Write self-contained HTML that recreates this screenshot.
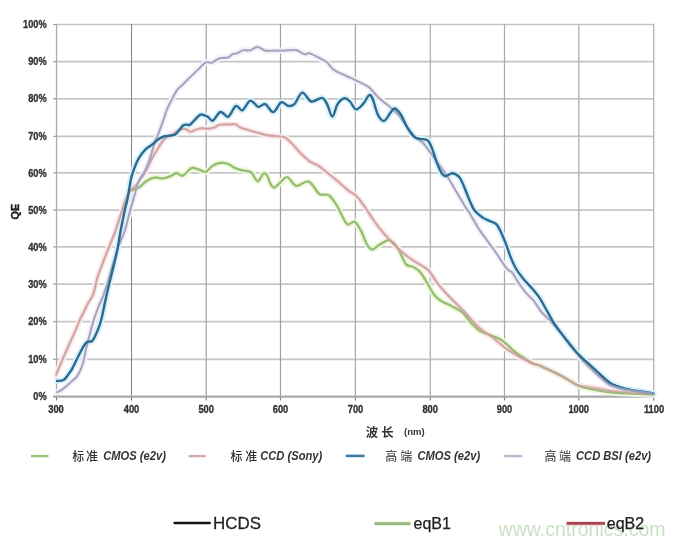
<!DOCTYPE html>
<html><head><meta charset="utf-8"><style>
html,body{margin:0;padding:0;background:#fff;}
body{width:684px;height:544px;overflow:hidden;position:relative;}
svg{position:absolute;left:0;top:0;}
.yl{font-family:"Liberation Sans",sans-serif;font-weight:bold;font-size:10.6px;fill:#333;stroke:#333;stroke-width:0.35px;text-anchor:end;}
.xl{font-family:"Liberation Sans",sans-serif;font-weight:bold;font-size:10.2px;fill:#333;stroke:#333;stroke-width:0.35px;text-anchor:middle;}
.qe{font-family:"Liberation Sans",sans-serif;font-weight:bold;font-size:10.4px;fill:#222;stroke:#222;stroke-width:0.4px;}
.cj{font-family:"Liberation Sans","Noto Sans CJK SC",sans-serif;font-size:12px;font-weight:500;fill:#333;}
.lb{font-family:"Liberation Sans",sans-serif;font-weight:bold;font-style:italic;font-size:13px;fill:#333;}
.nm{font-family:"Liberation Sans",sans-serif;font-weight:bold;font-size:9.5px;fill:#333;}
.l2{font-family:"Liberation Sans",sans-serif;font-size:16px;fill:#222;stroke:#222;stroke-width:0.25px;}
.wm{font-family:"Liberation Sans",sans-serif;font-size:19.5px;fill:#b9d6b1;opacity:0.75;}
</style></head><body>
<svg width="684" height="544" viewBox="0 0 684 544">
<line x1="56" y1="24.50" x2="654" y2="24.50" stroke="#c5c5c5" stroke-width="1.7"/>
<line x1="53" y1="24.50" x2="56" y2="24.50" stroke="#a0a0a0" stroke-width="1.2"/>
<line x1="56" y1="61.70" x2="654" y2="61.70" stroke="#c5c5c5" stroke-width="1.7"/>
<line x1="53" y1="61.70" x2="56" y2="61.70" stroke="#a0a0a0" stroke-width="1.2"/>
<line x1="56" y1="98.80" x2="654" y2="98.80" stroke="#c5c5c5" stroke-width="1.7"/>
<line x1="53" y1="98.80" x2="56" y2="98.80" stroke="#a0a0a0" stroke-width="1.2"/>
<line x1="56" y1="136.40" x2="654" y2="136.40" stroke="#c5c5c5" stroke-width="1.7"/>
<line x1="53" y1="136.40" x2="56" y2="136.40" stroke="#a0a0a0" stroke-width="1.2"/>
<line x1="56" y1="172.90" x2="654" y2="172.90" stroke="#c5c5c5" stroke-width="1.7"/>
<line x1="53" y1="172.90" x2="56" y2="172.90" stroke="#a0a0a0" stroke-width="1.2"/>
<line x1="56" y1="210.10" x2="654" y2="210.10" stroke="#c5c5c5" stroke-width="1.7"/>
<line x1="53" y1="210.10" x2="56" y2="210.10" stroke="#a0a0a0" stroke-width="1.2"/>
<line x1="56" y1="246.90" x2="654" y2="246.90" stroke="#c5c5c5" stroke-width="1.7"/>
<line x1="53" y1="246.90" x2="56" y2="246.90" stroke="#a0a0a0" stroke-width="1.2"/>
<line x1="56" y1="284.10" x2="654" y2="284.10" stroke="#c5c5c5" stroke-width="1.7"/>
<line x1="53" y1="284.10" x2="56" y2="284.10" stroke="#a0a0a0" stroke-width="1.2"/>
<line x1="56" y1="321.70" x2="654" y2="321.70" stroke="#c5c5c5" stroke-width="1.7"/>
<line x1="53" y1="321.70" x2="56" y2="321.70" stroke="#a0a0a0" stroke-width="1.2"/>
<line x1="56" y1="359.30" x2="654" y2="359.30" stroke="#c5c5c5" stroke-width="1.7"/>
<line x1="53" y1="359.30" x2="56" y2="359.30" stroke="#a0a0a0" stroke-width="1.2"/>
<line x1="56.50" y1="24" x2="56.50" y2="397" stroke="#a9a9a9" stroke-width="1.3"/>
<line x1="56.50" y1="397" x2="56.50" y2="400.5" stroke="#777" stroke-width="1.1"/>
<line x1="131.50" y1="24" x2="131.50" y2="397" stroke="#888888" stroke-width="1.1"/>
<line x1="131.50" y1="397" x2="131.50" y2="400.5" stroke="#777" stroke-width="1.1"/>
<line x1="206.20" y1="24" x2="206.20" y2="397" stroke="#a8a8a8" stroke-width="1.3"/>
<line x1="206.20" y1="397" x2="206.20" y2="400.5" stroke="#777" stroke-width="1.1"/>
<line x1="280.50" y1="24" x2="280.50" y2="397" stroke="#a0a0a0" stroke-width="1.2"/>
<line x1="280.50" y1="397" x2="280.50" y2="400.5" stroke="#777" stroke-width="1.1"/>
<line x1="355.40" y1="24" x2="355.40" y2="397" stroke="#acacac" stroke-width="1.3"/>
<line x1="355.40" y1="397" x2="355.40" y2="400.5" stroke="#777" stroke-width="1.1"/>
<line x1="430.30" y1="24" x2="430.30" y2="397" stroke="#b8b8b8" stroke-width="1.5"/>
<line x1="430.30" y1="397" x2="430.30" y2="400.5" stroke="#777" stroke-width="1.1"/>
<line x1="504.50" y1="24" x2="504.50" y2="397" stroke="#a8a8a8" stroke-width="1.2"/>
<line x1="504.50" y1="397" x2="504.50" y2="400.5" stroke="#777" stroke-width="1.1"/>
<line x1="578.80" y1="24" x2="578.80" y2="397" stroke="#b4b4b4" stroke-width="1.4"/>
<line x1="578.80" y1="397" x2="578.80" y2="400.5" stroke="#777" stroke-width="1.1"/>
<line x1="653.70" y1="24" x2="653.70" y2="397" stroke="#bababa" stroke-width="1.5"/>
<line x1="653.70" y1="397" x2="653.70" y2="400.5" stroke="#777" stroke-width="1.1"/>
<line x1="53" y1="396.7" x2="654.5" y2="396.7" stroke="#a8a8a8" stroke-width="2.2"/>
<path d="M132.3,190.3 C133.5,189.8 137.0,188.8 139.4,187.2 C141.8,185.6 144.0,182.6 146.5,181.0 C149.0,179.4 151.8,177.9 154.4,177.5 C157.1,177.1 159.9,178.6 162.4,178.4 C164.9,178.2 167.1,177.5 169.4,176.6 C171.8,175.7 174.3,173.2 176.5,173.0 C178.7,172.8 180.1,176.5 182.6,175.7 C185.1,174.9 189.0,169.2 191.5,168.1 C194.0,167.0 196.2,168.9 197.6,169.2 C199.0,169.5 198.6,169.6 200.0,170.0 C201.4,170.4 203.9,172.4 205.9,171.8 C207.9,171.2 209.9,167.9 211.8,166.5 C213.8,165.1 215.7,164.1 217.6,163.5 C219.5,162.9 221.5,162.7 223.5,162.9 C225.5,163.1 227.4,163.8 229.4,164.7 C231.4,165.6 233.3,167.3 235.3,168.2 C237.3,169.1 239.2,169.5 241.2,170.0 C243.2,170.5 245.3,170.7 247.1,171.2 C248.9,171.7 250.1,171.2 251.8,172.9 C253.6,174.6 255.7,181.1 257.6,181.2 C259.6,181.3 261.9,174.5 263.5,173.5 C265.1,172.5 265.9,173.5 267.1,175.3 C268.3,177.1 269.4,182.1 270.6,184.1 C271.8,186.1 272.5,187.8 274.1,187.6 C275.7,187.4 277.8,184.7 280.0,182.9 C282.2,181.2 284.6,176.6 287.3,177.1 C290.0,177.6 292.7,185.2 296.2,185.9 C299.7,186.6 304.7,180.2 308.5,181.5 C312.3,182.8 316.2,191.6 319.1,193.8 C322.1,196.0 324.4,194.3 326.2,194.7 C328.0,195.1 328.2,194.3 330.0,196.2 C331.8,198.1 335.0,202.5 337.1,205.9 C339.2,209.3 340.6,213.4 342.4,216.5 C344.1,219.6 345.6,223.5 347.6,224.4 C349.7,225.3 352.5,220.8 354.7,221.8 C356.9,222.8 358.8,226.8 360.9,230.6 C363.0,234.4 365.2,241.5 367.1,244.7 C369.0,247.9 370.3,249.6 372.4,249.6 C374.4,249.6 376.8,246.2 379.4,244.7 C382.0,243.1 385.8,240.6 388.2,240.3 C390.6,240.0 391.7,241.3 393.5,242.9 C395.3,244.5 396.7,246.5 398.8,250.0 C400.9,253.5 403.5,261.3 405.9,264.1 C408.2,266.9 410.5,265.5 412.9,266.8 C415.2,268.1 417.5,269.0 420.0,271.9 C422.5,274.8 425.5,280.3 427.9,284.1 C430.2,287.9 431.9,291.9 434.1,294.7 C436.3,297.5 438.2,299.0 441.2,300.9 C444.1,302.8 448.3,304.3 451.8,306.2 C455.3,308.1 459.2,309.6 462.4,312.4 C465.6,315.2 468.3,319.8 471.2,322.9 C474.1,326.0 476.8,328.8 480.0,330.9 C483.2,333.0 487.4,334.0 490.6,335.3 C493.8,336.6 496.8,337.3 499.4,338.8 C502.0,340.3 503.9,341.9 506.5,344.1 C509.1,346.3 512.1,349.6 515.3,352.1 C518.5,354.6 523.0,357.3 525.9,359.2 C528.8,361.1 530.5,362.4 532.9,363.5 C535.2,364.6 537.1,364.6 540.0,365.8 C542.9,367.0 547.0,368.9 550.5,370.6 C554.0,372.3 557.5,373.9 561.0,375.8 C564.5,377.7 568.7,380.2 571.6,381.9 C574.5,383.6 575.1,384.6 578.6,385.8 C582.1,387.0 587.3,388.2 592.6,389.3 C597.9,390.4 603.8,391.5 610.2,392.2 C616.6,392.9 623.8,393.2 631.0,393.6 C638.2,394.0 649.7,394.4 653.4,394.5" fill="none" stroke="#eef8dc" stroke-width="6.4" stroke-linejoin="round" stroke-linecap="round" opacity="0.9"/>
<path d="M56.2,374.6 C56.9,372.8 58.7,368.4 60.6,364.0 C62.5,359.6 65.2,353.4 67.6,348.1 C69.9,342.8 72.6,337.0 74.7,332.2 C76.8,327.4 78.7,322.5 80.0,319.5 C81.3,316.5 81.3,317.0 82.6,314.4 C83.9,311.8 86.0,307.2 87.7,304.0 C89.4,300.8 91.6,298.0 92.9,295.0 C94.2,292.0 94.6,289.2 95.4,286.0 C96.2,282.8 96.9,279.1 98.0,275.7 C99.1,272.3 100.3,269.7 101.9,265.4 C103.5,261.1 105.7,255.2 107.8,250.0 C109.9,244.8 112.1,239.9 114.3,234.0 C116.5,228.1 118.8,220.5 120.7,214.7 C122.6,208.9 124.4,203.2 125.9,199.3 C127.4,195.5 128.6,193.3 129.7,191.6 C130.8,189.9 131.2,190.1 132.3,189.0 C133.4,187.9 134.7,186.9 136.2,185.1 C137.7,183.3 139.6,180.5 141.3,178.0 C143.0,175.5 144.6,173.2 146.4,170.0 C148.2,166.8 150.1,161.9 151.9,158.5 C153.7,155.1 155.7,152.2 157.4,149.4 C159.1,146.7 160.5,144.0 162.0,142.0 C163.5,140.0 165.2,138.5 166.6,137.4 C168.0,136.3 168.6,136.7 170.6,135.6 C172.6,134.5 176.5,131.7 178.8,130.6 C181.2,129.5 182.7,128.6 184.7,128.8 C186.7,129.0 188.6,131.7 190.6,131.8 C192.6,131.9 194.5,130.0 196.5,129.4 C198.5,128.8 200.5,128.3 202.4,128.2 C204.3,128.1 206.2,128.9 208.2,128.8 C210.1,128.7 212.1,128.3 214.1,127.6 C216.1,126.9 217.8,125.2 220.0,124.7 C222.2,124.2 224.8,124.6 227.0,124.5 C229.2,124.4 231.4,124.3 232.9,124.3 C234.4,124.3 234.7,123.8 236.0,124.3 C237.3,124.8 238.4,126.6 240.6,127.6 C242.8,128.6 246.5,129.4 249.4,130.3 C252.3,131.2 255.2,132.1 258.2,132.9 C261.1,133.7 264.2,134.7 267.1,135.2 C270.1,135.7 273.0,135.7 275.9,136.1 C278.8,136.5 282.0,136.2 284.7,137.4 C287.4,138.6 289.1,140.9 291.8,143.5 C294.5,146.1 297.7,150.2 300.6,153.2 C303.5,156.1 306.5,159.1 309.4,161.2 C312.3,163.3 315.2,163.7 318.2,165.6 C321.1,167.5 324.2,170.2 327.1,172.6 C330.1,174.9 332.5,176.8 335.9,179.7 C339.3,182.6 344.2,187.2 347.6,190.0 C351.0,192.8 353.6,193.3 356.5,196.2 C359.4,199.1 362.4,203.5 365.3,207.6 C368.2,211.7 371.2,216.8 374.1,220.9 C377.0,225.0 379.9,228.9 382.9,232.4 C385.8,235.9 388.9,239.0 391.8,242.1 C394.8,245.2 397.7,248.3 400.6,250.9 C403.5,253.5 406.5,255.8 409.4,257.9 C412.3,260.0 415.0,261.5 418.2,263.6 C421.4,265.7 425.6,267.3 428.8,270.6 C432.0,273.9 434.1,278.9 437.6,283.4 C441.1,287.9 445.9,293.0 450.0,297.4 C454.1,301.8 458.6,305.7 462.4,309.7 C466.2,313.7 469.7,317.8 472.9,321.2 C476.1,324.6 478.6,327.4 481.8,330.0 C485.1,332.6 488.6,334.2 492.4,337.1 C496.2,340.0 500.3,344.4 504.7,347.6 C509.1,350.8 514.1,353.9 518.8,356.5 C523.5,359.1 529.4,362.0 532.9,363.5 C536.4,365.0 537.1,364.5 540.0,365.6 C542.9,366.8 547.0,368.7 550.5,370.4 C554.0,372.1 557.5,373.7 561.0,375.6 C564.5,377.5 568.7,380.2 571.6,381.8 C574.5,383.4 575.5,384.4 578.6,385.3 C581.7,386.2 584.7,386.3 590.0,387.2 C595.3,388.1 603.7,389.7 610.5,390.6 C617.3,391.5 623.9,392.1 631.0,392.6 C638.1,393.2 649.7,393.7 653.4,393.9" fill="none" stroke="#fbecec" stroke-width="6.4" stroke-linejoin="round" stroke-linecap="round" opacity="0.9"/>
<path d="M57.1,392.2 C57.8,391.9 59.8,391.2 61.4,390.1 C63.0,389.0 64.9,387.3 66.7,385.8 C68.5,384.3 70.5,382.4 72.1,381.0 C73.7,379.6 75.1,378.8 76.3,377.3 C77.5,375.8 78.5,373.9 79.5,372.0 C80.5,370.1 81.4,367.9 82.2,365.6 C83.0,363.3 83.7,360.8 84.3,358.1 C84.9,355.4 85.3,352.3 85.9,349.6 C86.5,346.9 86.7,346.6 87.9,341.9 C89.1,337.2 91.5,327.3 93.2,321.6 C94.9,315.9 96.5,311.9 98.0,307.9 C99.5,303.9 101.0,301.5 102.5,297.6 C104.0,293.7 105.5,289.4 107.0,284.7 C108.5,280.0 109.8,275.1 111.5,269.3 C113.2,263.5 116.1,254.1 117.3,250.0 C118.5,245.9 117.6,248.1 118.8,245.0 C120.0,241.9 122.8,237.0 124.6,231.5 C126.4,226.0 128.1,218.1 129.7,212.2 C131.3,206.3 132.7,201.5 134.2,196.3 C135.7,191.1 137.1,185.0 138.8,181.0 C140.5,177.0 142.6,175.3 144.2,172.4 C145.8,169.5 146.9,166.8 148.2,163.5 C149.5,160.2 150.7,156.0 151.9,152.3 C153.1,148.6 154.2,144.3 155.2,141.5 C156.1,138.7 156.4,138.6 157.6,135.6 C158.8,132.6 161.0,126.8 162.2,123.5 C163.4,120.2 164.0,118.2 164.8,115.9 C165.6,113.6 165.8,112.1 167.0,109.4 C168.2,106.7 170.1,102.7 171.8,99.5 C173.5,96.3 175.4,92.3 177.1,90.0 C178.8,87.7 179.6,87.6 181.8,85.4 C184.1,83.2 187.7,79.7 190.6,76.8 C193.5,73.9 196.8,70.6 199.4,68.2 C202.0,65.8 204.0,63.1 206.1,62.2 C208.2,61.3 209.7,63.3 212.0,62.6 C214.3,61.9 217.1,59.0 219.7,58.2 C222.3,57.4 225.4,58.3 227.6,57.6 C229.8,56.9 231.3,54.8 232.9,54.1 C234.5,53.4 235.4,53.9 237.1,53.3 C238.8,52.7 241.0,50.8 243.2,50.3 C245.4,49.8 247.9,50.9 250.3,50.3 C252.7,49.7 254.9,46.8 257.4,46.8 C259.9,46.8 262.5,50.0 265.3,50.6 C268.1,51.2 271.2,50.6 274.1,50.6 C277.0,50.6 279.2,50.7 282.9,50.6 C286.5,50.5 292.4,49.6 296.0,50.2 C299.6,50.8 302.2,53.8 304.5,54.3 C306.8,54.8 306.9,52.5 309.7,53.3 C312.4,54.1 318.1,57.4 321.0,58.9 C323.9,60.4 325.0,60.5 327.0,62.2 C329.0,64.0 330.8,67.5 333.2,69.4 C335.6,71.3 338.6,72.4 341.4,73.8 C344.2,75.2 347.3,76.4 350.0,77.6 C352.7,78.8 354.4,79.6 357.6,81.2 C360.8,82.8 365.6,84.6 369.1,87.4 C372.6,90.2 375.7,95.0 378.8,97.9 C381.9,100.8 384.4,102.2 387.6,105.0 C390.8,107.8 394.9,111.0 398.2,114.7 C401.4,118.4 404.5,123.6 407.1,127.1 C409.8,130.6 411.5,133.3 414.1,135.9 C416.7,138.5 420.1,140.1 422.9,142.9 C425.6,145.7 428.2,149.6 430.6,152.9 C433.1,156.2 435.0,158.9 437.6,162.6 C440.2,166.3 443.6,170.4 446.5,175.0 C449.4,179.6 452.1,184.6 455.3,190.0 C458.5,195.4 463.4,203.6 465.9,207.6 C468.3,211.6 467.9,210.3 470.0,213.8 C472.1,217.3 475.9,224.2 478.8,228.8 C481.7,233.4 484.7,237.1 487.6,241.2 C490.6,245.3 493.9,249.7 496.5,253.5 C499.1,257.3 501.6,261.4 503.5,264.1 C505.4,266.9 506.7,268.5 508.2,270.0 C509.7,271.5 510.6,270.7 512.4,272.9 C514.2,275.1 516.3,279.7 518.8,283.2 C521.2,286.7 524.5,291.1 527.1,294.1 C529.7,297.1 531.8,298.2 534.1,301.2 C536.5,304.1 538.6,308.6 541.2,311.8 C543.9,315.0 546.8,317.1 550.0,320.6 C553.2,324.1 557.1,328.8 560.6,332.9 C564.1,337.0 568.0,341.2 571.2,345.3 C574.4,349.4 576.8,353.8 580.0,357.6 C583.2,361.5 587.2,365.1 590.6,368.4 C594.0,371.7 596.9,374.6 600.2,377.4 C603.5,380.2 607.1,383.5 610.5,385.4 C613.9,387.3 617.3,387.8 620.7,388.6 C624.1,389.4 627.6,389.8 631.0,390.3 C634.4,390.8 637.5,391.3 641.2,391.8 C644.9,392.3 651.4,393.2 653.4,393.5" fill="none" stroke="#f4f2f9" stroke-width="6.2" stroke-linejoin="round" stroke-linecap="round" opacity="0.9"/>
<path d="M57.1,381.0 C58.2,380.8 61.7,381.0 63.5,380.0 C65.3,379.0 66.4,377.1 67.8,375.2 C69.2,373.3 70.7,371.3 72.1,368.8 C73.5,366.3 74.9,363.2 76.3,360.3 C77.7,357.4 79.2,354.4 80.6,351.7 C82.0,349.0 83.7,346.0 84.9,344.3 C86.1,342.6 86.8,342.2 88.0,341.6 C89.2,341.0 90.8,342.7 92.4,340.8 C94.0,338.9 96.1,334.0 97.6,330.5 C99.1,327.0 99.8,325.3 101.2,320.0 C102.6,314.7 104.4,304.8 105.7,298.9 C107.0,293.0 107.8,289.6 109.0,284.7 C110.2,279.8 111.4,275.1 112.8,269.3 C114.2,263.5 116.0,256.3 117.3,250.0 C118.6,243.7 119.2,238.2 120.5,231.5 C121.8,224.8 123.6,215.7 124.8,210.0 C126.0,204.3 126.9,202.5 127.8,197.5 C128.8,192.5 129.9,184.4 130.7,180.2 C131.5,176.0 132.1,175.0 132.9,172.4 C133.7,169.8 134.7,167.1 135.7,164.7 C136.7,162.3 137.4,160.4 139.0,157.8 C140.6,155.2 143.3,151.6 145.5,149.4 C147.7,147.2 149.8,146.5 151.9,144.8 C154.0,143.1 156.3,140.7 158.3,139.3 C160.3,137.9 162.1,137.1 163.9,136.5 C165.8,135.9 167.6,135.9 169.4,135.6 C171.2,135.3 173.4,135.6 174.9,134.8 C176.4,134.0 177.1,132.6 178.5,131.0 C179.9,129.4 181.8,126.6 183.1,125.5 C184.4,124.4 185.4,124.7 186.5,124.6 C187.6,124.5 188.3,125.6 189.6,124.9 C190.9,124.2 192.4,122.3 194.1,120.6 C195.8,118.9 198.2,115.8 200.0,114.9 C201.8,114.0 203.3,114.9 204.7,115.3 C206.1,115.7 206.8,116.2 208.2,117.1 C209.6,118.0 210.9,121.4 212.9,120.6 C214.9,119.8 217.9,112.6 220.3,112.0 C222.7,111.4 225.7,116.3 227.3,116.8 C228.9,117.2 228.5,116.5 230.0,114.7 C231.5,112.9 234.1,106.6 236.2,105.9 C238.3,105.2 240.1,111.2 242.4,110.3 C244.8,109.4 247.7,101.2 250.3,100.6 C252.9,100.0 255.7,106.2 258.2,106.8 C260.7,107.4 262.8,103.2 265.3,104.1 C267.8,105.0 270.6,112.4 273.2,112.1 C275.8,111.8 278.7,103.3 281.2,102.3 C283.7,101.3 286.0,105.6 288.2,105.9 C290.4,106.2 292.0,106.3 294.4,104.1 C296.8,101.9 299.5,93.0 302.3,92.6 C305.1,92.2 307.9,100.6 311.2,101.5 C314.4,102.4 319.1,97.5 321.8,97.9 C324.5,98.3 325.4,101.0 327.1,104.1 C328.9,107.2 330.6,116.5 332.3,116.5 C334.1,116.5 335.6,107.1 337.6,104.1 C339.6,101.1 342.4,98.7 344.5,98.3 C346.6,97.9 348.1,99.7 350.0,101.5 C351.9,103.3 353.8,109.0 355.9,109.4 C358.0,109.8 360.7,106.4 362.9,104.1 C365.1,101.8 367.5,96.2 369.1,95.3 C370.7,94.4 371.1,95.6 372.6,98.8 C374.1,102.0 376.0,111.0 377.9,114.7 C379.8,118.4 382.0,121.2 384.1,120.9 C386.2,120.6 388.5,115.0 390.3,112.9 C392.1,110.8 392.9,108.2 394.7,108.5 C396.5,108.8 398.8,111.6 400.9,114.7 C403.0,117.8 404.9,123.4 407.1,127.1 C409.3,130.8 412.0,134.9 414.1,136.8 C416.2,138.8 417.7,138.2 420.0,138.8 C422.3,139.4 425.8,138.8 427.9,140.6 C430.0,142.4 430.9,145.7 432.4,149.4 C433.9,153.1 435.3,158.8 436.8,162.6 C438.3,166.4 439.8,170.1 441.2,172.4 C442.6,174.7 443.3,176.1 445.2,176.2 C447.1,176.3 450.3,173.1 452.6,173.2 C454.9,173.3 457.3,174.9 459.2,177.0 C461.1,179.1 462.2,182.4 463.8,186.0 C465.4,189.6 467.0,194.4 468.8,198.5 C470.6,202.6 472.2,207.2 474.5,210.3 C476.8,213.5 479.9,215.6 482.4,217.4 C484.9,219.2 487.0,219.7 489.4,220.9 C491.8,222.1 494.4,222.2 496.5,224.4 C498.6,226.6 500.2,230.7 501.8,234.1 C503.4,237.5 504.7,240.9 506.2,244.7 C507.7,248.5 509.0,253.1 510.6,257.1 C512.2,261.1 513.9,265.0 515.9,268.5 C517.9,272.0 520.1,274.8 522.9,278.2 C525.6,281.6 529.6,285.6 532.4,288.8 C535.1,292.0 537.0,294.1 539.4,297.6 C541.8,301.1 544.1,305.9 546.5,310.0 C548.9,314.1 550.9,318.3 553.5,322.4 C556.1,326.5 559.4,330.7 562.4,334.7 C565.4,338.7 568.3,342.7 571.2,346.2 C574.1,349.7 576.8,352.7 580.0,355.9 C583.2,359.1 587.1,362.4 590.6,365.6 C594.1,368.8 598.7,373.0 601.2,375.3 C603.7,377.6 603.9,377.9 605.4,379.2 C606.9,380.5 608.5,381.8 610.2,382.9 C611.9,384.0 613.9,384.8 615.6,385.6 C617.4,386.4 618.1,386.8 620.7,387.5 C623.3,388.2 627.6,389.2 631.0,389.9 C634.4,390.6 637.5,390.9 641.2,391.5 C644.9,392.1 651.4,393.1 653.4,393.4" fill="none" stroke="#d6f1fb" stroke-width="6.4" stroke-linejoin="round" stroke-linecap="round" opacity="0.9"/>
<path d="M132.3,190.3 C133.5,189.8 137.0,188.8 139.4,187.2 C141.8,185.6 144.0,182.6 146.5,181.0 C149.0,179.4 151.8,177.9 154.4,177.5 C157.1,177.1 159.9,178.6 162.4,178.4 C164.9,178.2 167.1,177.5 169.4,176.6 C171.8,175.7 174.3,173.2 176.5,173.0 C178.7,172.8 180.1,176.5 182.6,175.7 C185.1,174.9 189.0,169.2 191.5,168.1 C194.0,167.0 196.2,168.9 197.6,169.2 C199.0,169.5 198.6,169.6 200.0,170.0 C201.4,170.4 203.9,172.4 205.9,171.8 C207.9,171.2 209.9,167.9 211.8,166.5 C213.8,165.1 215.7,164.1 217.6,163.5 C219.5,162.9 221.5,162.7 223.5,162.9 C225.5,163.1 227.4,163.8 229.4,164.7 C231.4,165.6 233.3,167.3 235.3,168.2 C237.3,169.1 239.2,169.5 241.2,170.0 C243.2,170.5 245.3,170.7 247.1,171.2 C248.9,171.7 250.1,171.2 251.8,172.9 C253.6,174.6 255.7,181.1 257.6,181.2 C259.6,181.3 261.9,174.5 263.5,173.5 C265.1,172.5 265.9,173.5 267.1,175.3 C268.3,177.1 269.4,182.1 270.6,184.1 C271.8,186.1 272.5,187.8 274.1,187.6 C275.7,187.4 277.8,184.7 280.0,182.9 C282.2,181.2 284.6,176.6 287.3,177.1 C290.0,177.6 292.7,185.2 296.2,185.9 C299.7,186.6 304.7,180.2 308.5,181.5 C312.3,182.8 316.2,191.6 319.1,193.8 C322.1,196.0 324.4,194.3 326.2,194.7 C328.0,195.1 328.2,194.3 330.0,196.2 C331.8,198.1 335.0,202.5 337.1,205.9 C339.2,209.3 340.6,213.4 342.4,216.5 C344.1,219.6 345.6,223.5 347.6,224.4 C349.7,225.3 352.5,220.8 354.7,221.8 C356.9,222.8 358.8,226.8 360.9,230.6 C363.0,234.4 365.2,241.5 367.1,244.7 C369.0,247.9 370.3,249.6 372.4,249.6 C374.4,249.6 376.8,246.2 379.4,244.7 C382.0,243.1 385.8,240.6 388.2,240.3 C390.6,240.0 391.7,241.3 393.5,242.9 C395.3,244.5 396.7,246.5 398.8,250.0 C400.9,253.5 403.5,261.3 405.9,264.1 C408.2,266.9 410.5,265.5 412.9,266.8 C415.2,268.1 417.5,269.0 420.0,271.9 C422.5,274.8 425.5,280.3 427.9,284.1 C430.2,287.9 431.9,291.9 434.1,294.7 C436.3,297.5 438.2,299.0 441.2,300.9 C444.1,302.8 448.3,304.3 451.8,306.2 C455.3,308.1 459.2,309.6 462.4,312.4 C465.6,315.2 468.3,319.8 471.2,322.9 C474.1,326.0 476.8,328.8 480.0,330.9 C483.2,333.0 487.4,334.0 490.6,335.3 C493.8,336.6 496.8,337.3 499.4,338.8 C502.0,340.3 503.9,341.9 506.5,344.1 C509.1,346.3 512.1,349.6 515.3,352.1 C518.5,354.6 523.0,357.3 525.9,359.2 C528.8,361.1 530.5,362.4 532.9,363.5 C535.2,364.6 537.1,364.6 540.0,365.8 C542.9,367.0 547.0,368.9 550.5,370.6 C554.0,372.3 557.5,373.9 561.0,375.8 C564.5,377.7 568.7,380.2 571.6,381.9 C574.5,383.6 575.1,384.6 578.6,385.8 C582.1,387.0 587.3,388.2 592.6,389.3 C597.9,390.4 603.8,391.5 610.2,392.2 C616.6,392.9 623.8,393.2 631.0,393.6 C638.2,394.0 649.7,394.4 653.4,394.5" fill="none" stroke="#96bf74" stroke-width="2.4" stroke-linejoin="round" stroke-linecap="round"/>
<path d="M56.2,374.6 C56.9,372.8 58.7,368.4 60.6,364.0 C62.5,359.6 65.2,353.4 67.6,348.1 C69.9,342.8 72.6,337.0 74.7,332.2 C76.8,327.4 78.7,322.5 80.0,319.5 C81.3,316.5 81.3,317.0 82.6,314.4 C83.9,311.8 86.0,307.2 87.7,304.0 C89.4,300.8 91.6,298.0 92.9,295.0 C94.2,292.0 94.6,289.2 95.4,286.0 C96.2,282.8 96.9,279.1 98.0,275.7 C99.1,272.3 100.3,269.7 101.9,265.4 C103.5,261.1 105.7,255.2 107.8,250.0 C109.9,244.8 112.1,239.9 114.3,234.0 C116.5,228.1 118.8,220.5 120.7,214.7 C122.6,208.9 124.4,203.2 125.9,199.3 C127.4,195.5 128.6,193.3 129.7,191.6 C130.8,189.9 131.2,190.1 132.3,189.0 C133.4,187.9 134.7,186.9 136.2,185.1 C137.7,183.3 139.6,180.5 141.3,178.0 C143.0,175.5 144.6,173.2 146.4,170.0 C148.2,166.8 150.1,161.9 151.9,158.5 C153.7,155.1 155.7,152.2 157.4,149.4 C159.1,146.7 160.5,144.0 162.0,142.0 C163.5,140.0 165.2,138.5 166.6,137.4 C168.0,136.3 168.6,136.7 170.6,135.6 C172.6,134.5 176.5,131.7 178.8,130.6 C181.2,129.5 182.7,128.6 184.7,128.8 C186.7,129.0 188.6,131.7 190.6,131.8 C192.6,131.9 194.5,130.0 196.5,129.4 C198.5,128.8 200.5,128.3 202.4,128.2 C204.3,128.1 206.2,128.9 208.2,128.8 C210.1,128.7 212.1,128.3 214.1,127.6 C216.1,126.9 217.8,125.2 220.0,124.7 C222.2,124.2 224.8,124.6 227.0,124.5 C229.2,124.4 231.4,124.3 232.9,124.3 C234.4,124.3 234.7,123.8 236.0,124.3 C237.3,124.8 238.4,126.6 240.6,127.6 C242.8,128.6 246.5,129.4 249.4,130.3 C252.3,131.2 255.2,132.1 258.2,132.9 C261.1,133.7 264.2,134.7 267.1,135.2 C270.1,135.7 273.0,135.7 275.9,136.1 C278.8,136.5 282.0,136.2 284.7,137.4 C287.4,138.6 289.1,140.9 291.8,143.5 C294.5,146.1 297.7,150.2 300.6,153.2 C303.5,156.1 306.5,159.1 309.4,161.2 C312.3,163.3 315.2,163.7 318.2,165.6 C321.1,167.5 324.2,170.2 327.1,172.6 C330.1,174.9 332.5,176.8 335.9,179.7 C339.3,182.6 344.2,187.2 347.6,190.0 C351.0,192.8 353.6,193.3 356.5,196.2 C359.4,199.1 362.4,203.5 365.3,207.6 C368.2,211.7 371.2,216.8 374.1,220.9 C377.0,225.0 379.9,228.9 382.9,232.4 C385.8,235.9 388.9,239.0 391.8,242.1 C394.8,245.2 397.7,248.3 400.6,250.9 C403.5,253.5 406.5,255.8 409.4,257.9 C412.3,260.0 415.0,261.5 418.2,263.6 C421.4,265.7 425.6,267.3 428.8,270.6 C432.0,273.9 434.1,278.9 437.6,283.4 C441.1,287.9 445.9,293.0 450.0,297.4 C454.1,301.8 458.6,305.7 462.4,309.7 C466.2,313.7 469.7,317.8 472.9,321.2 C476.1,324.6 478.6,327.4 481.8,330.0 C485.1,332.6 488.6,334.2 492.4,337.1 C496.2,340.0 500.3,344.4 504.7,347.6 C509.1,350.8 514.1,353.9 518.8,356.5 C523.5,359.1 530.5,362.3 532.9,363.5" fill="none" stroke="#d09e9e" stroke-width="2.4" stroke-linejoin="round" stroke-linecap="round" opacity="0.9"/>
<path d="M518.8,356.5 C521.1,357.7 529.4,362.0 532.9,363.5 C536.4,365.0 537.1,364.5 540.0,365.6 C542.9,366.8 547.0,368.7 550.5,370.4 C554.0,372.1 557.5,373.7 561.0,375.6 C564.5,377.5 568.7,380.2 571.6,381.8 C574.5,383.4 575.5,384.4 578.6,385.3 C581.7,386.2 584.7,386.3 590.0,387.2 C595.3,388.1 603.7,389.7 610.5,390.6 C617.3,391.5 623.9,392.1 631.0,392.6 C638.1,393.2 649.7,393.7 653.4,393.9" fill="none" stroke="#d09e9e" stroke-width="2.4" stroke-linejoin="round" stroke-linecap="round" opacity="0.7"/>
<path d="M57.1,392.2 C57.8,391.9 59.8,391.2 61.4,390.1 C63.0,389.0 64.9,387.3 66.7,385.8 C68.5,384.3 70.5,382.4 72.1,381.0 C73.7,379.6 75.1,378.8 76.3,377.3 C77.5,375.8 78.5,373.9 79.5,372.0 C80.5,370.1 81.4,367.9 82.2,365.6 C83.0,363.3 83.7,360.8 84.3,358.1 C84.9,355.4 85.3,352.3 85.9,349.6 C86.5,346.9 86.7,346.6 87.9,341.9 C89.1,337.2 91.5,327.3 93.2,321.6 C94.9,315.9 96.5,311.9 98.0,307.9 C99.5,303.9 101.0,301.5 102.5,297.6 C104.0,293.7 105.5,289.4 107.0,284.7 C108.5,280.0 109.8,275.1 111.5,269.3 C113.2,263.5 116.1,254.1 117.3,250.0 C118.5,245.9 117.6,248.1 118.8,245.0 C120.0,241.9 122.8,237.0 124.6,231.5 C126.4,226.0 128.1,218.1 129.7,212.2 C131.3,206.3 132.7,201.5 134.2,196.3 C135.7,191.1 137.1,185.0 138.8,181.0 C140.5,177.0 142.6,175.3 144.2,172.4 C145.8,169.5 146.9,166.8 148.2,163.5 C149.5,160.2 150.7,156.0 151.9,152.3 C153.1,148.6 154.2,144.3 155.2,141.5 C156.1,138.7 156.4,138.6 157.6,135.6 C158.8,132.6 161.0,126.8 162.2,123.5 C163.4,120.2 164.0,118.2 164.8,115.9 C165.6,113.6 165.8,112.1 167.0,109.4 C168.2,106.7 170.1,102.7 171.8,99.5 C173.5,96.3 175.4,92.3 177.1,90.0 C178.8,87.7 179.6,87.6 181.8,85.4 C184.1,83.2 187.7,79.7 190.6,76.8 C193.5,73.9 196.8,70.6 199.4,68.2 C202.0,65.8 204.0,63.1 206.1,62.2 C208.2,61.3 209.7,63.3 212.0,62.6 C214.3,61.9 217.1,59.0 219.7,58.2 C222.3,57.4 225.4,58.3 227.6,57.6 C229.8,56.9 231.3,54.8 232.9,54.1 C234.5,53.4 235.4,53.9 237.1,53.3 C238.8,52.7 241.0,50.8 243.2,50.3 C245.4,49.8 247.9,50.9 250.3,50.3 C252.7,49.7 254.9,46.8 257.4,46.8 C259.9,46.8 262.5,50.0 265.3,50.6 C268.1,51.2 271.2,50.6 274.1,50.6 C277.0,50.6 279.2,50.7 282.9,50.6 C286.5,50.5 292.4,49.6 296.0,50.2 C299.6,50.8 302.2,53.8 304.5,54.3 C306.8,54.8 306.9,52.5 309.7,53.3 C312.4,54.1 318.1,57.4 321.0,58.9 C323.9,60.4 325.0,60.5 327.0,62.2 C329.0,64.0 330.8,67.5 333.2,69.4 C335.6,71.3 338.6,72.4 341.4,73.8 C344.2,75.2 347.3,76.4 350.0,77.6 C352.7,78.8 354.4,79.6 357.6,81.2 C360.8,82.8 365.6,84.6 369.1,87.4 C372.6,90.2 375.7,95.0 378.8,97.9 C381.9,100.8 384.4,102.2 387.6,105.0 C390.8,107.8 394.9,111.0 398.2,114.7 C401.4,118.4 404.5,123.6 407.1,127.1 C409.8,130.6 411.5,133.3 414.1,135.9 C416.7,138.5 420.1,140.1 422.9,142.9 C425.6,145.7 428.2,149.6 430.6,152.9 C433.1,156.2 435.0,158.9 437.6,162.6 C440.2,166.3 443.6,170.4 446.5,175.0 C449.4,179.6 452.1,184.6 455.3,190.0 C458.5,195.4 463.4,203.6 465.9,207.6 C468.3,211.6 467.9,210.3 470.0,213.8 C472.1,217.3 475.9,224.2 478.8,228.8 C481.7,233.4 484.7,237.1 487.6,241.2 C490.6,245.3 493.9,249.7 496.5,253.5 C499.1,257.3 501.6,261.4 503.5,264.1 C505.4,266.9 506.7,268.5 508.2,270.0 C509.7,271.5 510.6,270.7 512.4,272.9 C514.2,275.1 516.3,279.7 518.8,283.2 C521.2,286.7 524.5,291.1 527.1,294.1 C529.7,297.1 531.8,298.2 534.1,301.2 C536.5,304.1 538.6,308.6 541.2,311.8 C543.9,315.0 546.8,317.1 550.0,320.6 C553.2,324.1 557.1,328.8 560.6,332.9 C564.1,337.0 568.0,341.2 571.2,345.3 C574.4,349.4 576.8,353.8 580.0,357.6 C583.2,361.5 587.2,365.1 590.6,368.4 C594.0,371.7 596.9,374.6 600.2,377.4 C603.5,380.2 607.1,383.5 610.5,385.4 C613.9,387.3 617.3,387.8 620.7,388.6 C624.1,389.4 627.6,389.8 631.0,390.3 C634.4,390.8 637.5,391.3 641.2,391.8 C644.9,392.3 651.4,393.2 653.4,393.5" fill="none" stroke="#aba6c0" stroke-width="2.2" stroke-linejoin="round" stroke-linecap="round"/>
<path d="M57.1,381.0 C58.2,380.8 61.7,381.0 63.5,380.0 C65.3,379.0 66.4,377.1 67.8,375.2 C69.2,373.3 70.7,371.3 72.1,368.8 C73.5,366.3 74.9,363.2 76.3,360.3 C77.7,357.4 79.2,354.4 80.6,351.7 C82.0,349.0 83.7,346.0 84.9,344.3 C86.1,342.6 86.8,342.2 88.0,341.6 C89.2,341.0 90.8,342.7 92.4,340.8 C94.0,338.9 96.1,334.0 97.6,330.5 C99.1,327.0 99.8,325.3 101.2,320.0 C102.6,314.7 104.4,304.8 105.7,298.9 C107.0,293.0 107.8,289.6 109.0,284.7 C110.2,279.8 111.4,275.1 112.8,269.3 C114.2,263.5 116.0,256.3 117.3,250.0 C118.6,243.7 119.2,238.2 120.5,231.5 C121.8,224.8 123.6,215.7 124.8,210.0 C126.0,204.3 126.9,202.5 127.8,197.5 C128.8,192.5 129.9,184.4 130.7,180.2 C131.5,176.0 132.1,175.0 132.9,172.4 C133.7,169.8 134.7,167.1 135.7,164.7 C136.7,162.3 137.4,160.4 139.0,157.8 C140.6,155.2 143.3,151.6 145.5,149.4 C147.7,147.2 149.8,146.5 151.9,144.8 C154.0,143.1 156.3,140.7 158.3,139.3 C160.3,137.9 162.1,137.1 163.9,136.5 C165.8,135.9 167.6,135.9 169.4,135.6 C171.2,135.3 173.4,135.6 174.9,134.8 C176.4,134.0 177.1,132.6 178.5,131.0 C179.9,129.4 181.8,126.6 183.1,125.5 C184.4,124.4 185.4,124.7 186.5,124.6 C187.6,124.5 188.3,125.6 189.6,124.9 C190.9,124.2 192.4,122.3 194.1,120.6 C195.8,118.9 198.2,115.8 200.0,114.9 C201.8,114.0 203.3,114.9 204.7,115.3 C206.1,115.7 206.8,116.2 208.2,117.1 C209.6,118.0 210.9,121.4 212.9,120.6 C214.9,119.8 217.9,112.6 220.3,112.0 C222.7,111.4 225.7,116.3 227.3,116.8 C228.9,117.2 228.5,116.5 230.0,114.7 C231.5,112.9 234.1,106.6 236.2,105.9 C238.3,105.2 240.1,111.2 242.4,110.3 C244.8,109.4 247.7,101.2 250.3,100.6 C252.9,100.0 255.7,106.2 258.2,106.8 C260.7,107.4 262.8,103.2 265.3,104.1 C267.8,105.0 270.6,112.4 273.2,112.1 C275.8,111.8 278.7,103.3 281.2,102.3 C283.7,101.3 286.0,105.6 288.2,105.9 C290.4,106.2 292.0,106.3 294.4,104.1 C296.8,101.9 299.5,93.0 302.3,92.6 C305.1,92.2 307.9,100.6 311.2,101.5 C314.4,102.4 319.1,97.5 321.8,97.9 C324.5,98.3 325.4,101.0 327.1,104.1 C328.9,107.2 330.6,116.5 332.3,116.5 C334.1,116.5 335.6,107.1 337.6,104.1 C339.6,101.1 342.4,98.7 344.5,98.3 C346.6,97.9 348.1,99.7 350.0,101.5 C351.9,103.3 353.8,109.0 355.9,109.4 C358.0,109.8 360.7,106.4 362.9,104.1 C365.1,101.8 367.5,96.2 369.1,95.3 C370.7,94.4 371.1,95.6 372.6,98.8 C374.1,102.0 376.0,111.0 377.9,114.7 C379.8,118.4 382.0,121.2 384.1,120.9 C386.2,120.6 388.5,115.0 390.3,112.9 C392.1,110.8 392.9,108.2 394.7,108.5 C396.5,108.8 398.8,111.6 400.9,114.7 C403.0,117.8 404.9,123.4 407.1,127.1 C409.3,130.8 412.0,134.9 414.1,136.8 C416.2,138.8 417.7,138.2 420.0,138.8 C422.3,139.4 425.8,138.8 427.9,140.6 C430.0,142.4 430.9,145.7 432.4,149.4 C433.9,153.1 435.3,158.8 436.8,162.6 C438.3,166.4 439.8,170.1 441.2,172.4 C442.6,174.7 443.3,176.1 445.2,176.2 C447.1,176.3 450.3,173.1 452.6,173.2 C454.9,173.3 457.3,174.9 459.2,177.0 C461.1,179.1 462.2,182.4 463.8,186.0 C465.4,189.6 467.0,194.4 468.8,198.5 C470.6,202.6 472.2,207.2 474.5,210.3 C476.8,213.5 479.9,215.6 482.4,217.4 C484.9,219.2 487.0,219.7 489.4,220.9 C491.8,222.1 494.4,222.2 496.5,224.4 C498.6,226.6 500.2,230.7 501.8,234.1 C503.4,237.5 504.7,240.9 506.2,244.7 C507.7,248.5 509.0,253.1 510.6,257.1 C512.2,261.1 513.9,265.0 515.9,268.5 C517.9,272.0 520.1,274.8 522.9,278.2 C525.6,281.6 529.6,285.6 532.4,288.8 C535.1,292.0 537.0,294.1 539.4,297.6 C541.8,301.1 544.1,305.9 546.5,310.0 C548.9,314.1 550.9,318.3 553.5,322.4 C556.1,326.5 559.4,330.7 562.4,334.7 C565.4,338.7 568.3,342.7 571.2,346.2 C574.1,349.7 576.8,352.7 580.0,355.9 C583.2,359.1 587.1,362.4 590.6,365.6 C594.1,368.8 598.7,373.0 601.2,375.3 C603.7,377.6 603.9,377.9 605.4,379.2 C606.9,380.5 608.5,381.8 610.2,382.9 C611.9,384.0 613.9,384.8 615.6,385.6 C617.4,386.4 618.1,386.8 620.7,387.5 C623.3,388.2 627.6,389.2 631.0,389.9 C634.4,390.6 637.5,390.9 641.2,391.5 C644.9,392.1 651.4,393.1 653.4,393.4" fill="none" stroke="#2d6a8f" stroke-width="2.4" stroke-linejoin="round" stroke-linecap="round"/>
<path d="M610.5,385.4 C612.2,385.9 617.3,387.8 620.7,388.6 C624.1,389.4 627.6,389.8 631.0,390.3 C634.4,390.8 637.5,391.3 641.2,391.8 C644.9,392.3 651.4,393.2 653.4,393.5" fill="none" stroke="#aba6c0" stroke-width="2.2" stroke-linejoin="round" stroke-linecap="round" opacity="0.8"/>
<text transform="translate(46.6,400.30) scale(0.87,1)" class="yl">0%</text>
<text transform="translate(46.6,362.90) scale(0.87,1)" class="yl">10%</text>
<text transform="translate(46.6,325.30) scale(0.87,1)" class="yl">20%</text>
<text transform="translate(46.6,287.70) scale(0.87,1)" class="yl">30%</text>
<text transform="translate(46.6,250.50) scale(0.87,1)" class="yl">40%</text>
<text transform="translate(46.6,213.70) scale(0.87,1)" class="yl">50%</text>
<text transform="translate(46.6,176.50) scale(0.87,1)" class="yl">60%</text>
<text transform="translate(46.6,140.00) scale(0.87,1)" class="yl">70%</text>
<text transform="translate(46.6,102.40) scale(0.87,1)" class="yl">80%</text>
<text transform="translate(46.6,65.30) scale(0.87,1)" class="yl">90%</text>
<text transform="translate(46.6,28.10) scale(0.87,1)" class="yl">100%</text>
<text transform="translate(56.00,413.3) scale(0.91,1)" class="xl">300</text>
<text transform="translate(131.50,413.3) scale(0.91,1)" class="xl">400</text>
<text transform="translate(206.20,413.3) scale(0.91,1)" class="xl">500</text>
<text transform="translate(280.50,413.3) scale(0.91,1)" class="xl">600</text>
<text transform="translate(355.50,413.3) scale(0.91,1)" class="xl">700</text>
<text transform="translate(430.20,413.3) scale(0.91,1)" class="xl">800</text>
<text transform="translate(504.50,413.3) scale(0.91,1)" class="xl">900</text>
<text transform="translate(578.70,413.3) scale(0.91,1)" class="xl">1000</text>
<text transform="translate(654.00,413.3) scale(0.91,1)" class="xl">1100</text>
<text class="qe" transform="translate(18.6,219.4) rotate(-90) scale(1.05,1)">QE</text>
<text class="cj" x="365.8" y="436.8" letter-spacing="3" style="font-size:12.4px;font-weight:700">波长</text>
<text class="nm" x="404.1" y="434.6">(nm)</text>

<line x1="31" y1="456.1" x2="48.5" y2="456.1" stroke="#97c47a" stroke-width="2.4"/>
<text class="cj" x="72.3" y="460.5" letter-spacing="1.8">标准</text>
<text class="lb" transform="translate(103.2,459.6) scale(0.86,1)">CMOS (e2v)</text>

<line x1="188.6" y1="456.1" x2="205.8" y2="456.1" stroke="#d8a8a8" stroke-width="2.4"/>
<text class="cj" x="230.5" y="460.5" letter-spacing="2.8">标准</text>
<text class="lb" transform="translate(260.2,459.6) scale(0.86,1)">CCD (Sony)</text>

<line x1="345.8" y1="455.9" x2="364.6" y2="455.9" stroke="#3c7aa2" stroke-width="2.6"/>
<text class="cj" x="385.2" y="460.5" letter-spacing="3" style="fill:#555">高端</text>
<text class="lb" transform="translate(417.5,459.6) scale(0.86,1)">CMOS (e2v)</text>

<line x1="504.2" y1="456.1" x2="522.2" y2="456.1" stroke="#bbb6d4" stroke-width="2.4"/>
<text class="cj" x="544.4" y="460.5" letter-spacing="2.6" style="fill:#555">高端</text>
<text class="lb" transform="translate(576,459.6) scale(0.86,1)">CCD BSI (e2v)</text>

<text class="wm" x="498.6" y="535.6">www.cntronics.com</text>

<line x1="174.5" y1="523" x2="209.8" y2="523" stroke="#151515" stroke-width="2.3" stroke-linecap="round"/>
<text class="l2" transform="translate(213.1,529) scale(1.06,1)">HCDS</text>
<line x1="374.5" y1="523.6" x2="410.5" y2="523.6" stroke="#e9f7d8" stroke-width="5"/><line x1="374.5" y1="523.6" x2="410.5" y2="523.6" stroke="#97b683" stroke-width="2.6"/>
<text class="l2" x="413.5" y="529">eqB1</text>
<line x1="566.6" y1="523.4" x2="605" y2="523.4" stroke="#f6dcdc" stroke-width="5"/><line x1="566.6" y1="523.4" x2="605" y2="523.4" stroke="#a4474e" stroke-width="2.6"/>
<text class="l2" x="606.8" y="529">eqB2</text>
</svg>
</body></html>
